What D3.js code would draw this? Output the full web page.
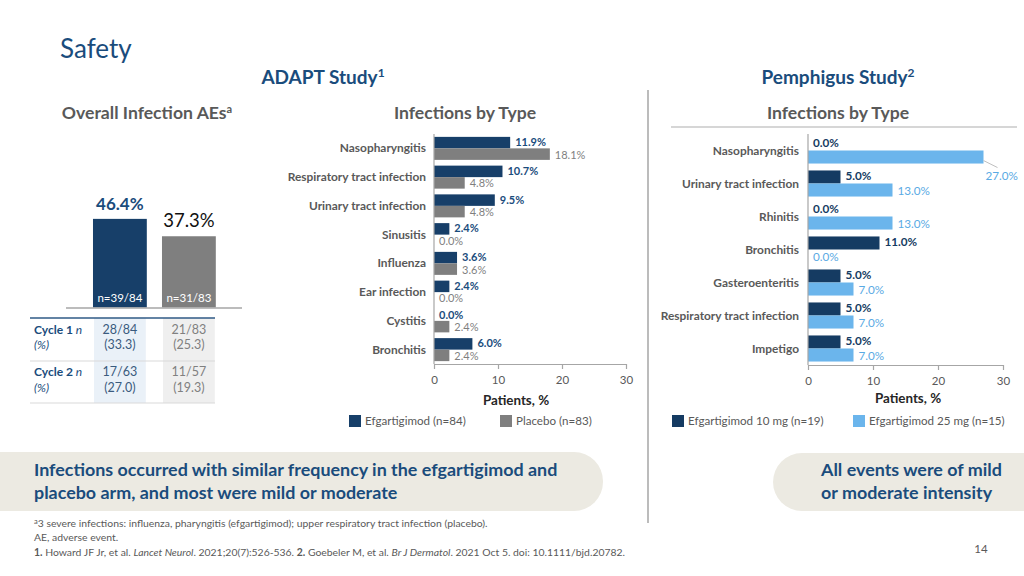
<!DOCTYPE html>
<html><head><meta charset="utf-8">
<script src="https://cdn.jsdelivr.net/npm/d3@7"></script>
<style>
body{margin:0;background:#fff}
svg{display:block}
text{font-family:Lato,"Open Sans",sans-serif}
</style>
</head><body>
<svg id="c" width="1024" height="576"></svg>
<script>
// ---------- data ----------
const overallGroups = ["Efgartigimod", "Placebo"];
const overallValues = [46.4, 37.3];
const overallN = ["n=39/84", "n=31/83"];
const cycleRows = ["Cycle 1", "Cycle 2"];
const cycleEfg = [["28/84", "(33.3)"], ["17/63", "(27.0)"]];
const cyclePbo = [["21/83", "(25.3)"], ["11/57", "(19.3)"]];

const adaptCategories = ["Nasopharyngitis", "Respiratory tract infection", "Urinary tract infection", "Sinusitis", "Influenza", "Ear infection", "Cystitis", "Bronchitis"];
const adaptEfg = [11.9, 10.7, 9.5, 2.4, 3.6, 2.4, 0.0, 6.0];
const adaptPlacebo = [18.1, 4.8, 4.8, 0.0, 3.6, 0.0, 2.4, 2.4];
const adaptLegend = ["Efgartigimod (n=84)", "Placebo (n=83)"];

const pemCategories = ["Nasopharyngitis", "Urinary tract infection", "Rhinitis", "Bronchitis", "Gasteroenteritis", "Respiratory tract infection", "Impetigo"];
const pem10 = [0.0, 5.0, 0.0, 11.0, 5.0, 5.0, 5.0];
const pem25 = [27.0, 13.0, 13.0, 0.0, 7.0, 7.0, 7.0];
const pemLegend = ["Efgartigimod 10 mg (n=19)", "Efgartigimod 25 mg (n=15)"];

const xTicks = [0, 10, 20, 30];

// ---------- styles ----------
const NAVY = "#173F69", TITLE = "#1A4C7C", GREY = "#7F7F7F", LBLUE = "#6BB5EC", TXT = "#595959", AX = "#A6A6A6";

const svg = d3.select("#c");

function txt(x, y, s, o = {}) {
  const t = svg.append("text").attr("x", x).attr("y", y).text(s)
    .attr("font-size", o.size || 11).attr("fill", o.fill || TXT)
    .attr("font-weight", o.weight || "normal")
    .attr("text-anchor", o.anchor || "start");
  if (o.style) t.attr("font-style", o.style);
  if (o.family) t.attr("font-family", o.family);
  return t;
}

// ---------- headings ----------
txt(60, 58, "Safety", {size: 26, fill: TITLE});
const h1 = txt(323, 84, "ADAPT Study", {size: 19, fill: TITLE, weight: "bold", anchor: "middle"});
h1.append("tspan").attr("dy", -7).attr("font-size", 12).text("1");
const h2 = txt(838, 84, "Pemphigus Study", {size: 19, fill: TITLE, weight: "bold", anchor: "middle"});
h2.append("tspan").attr("dy", -7).attr("font-size", 12).text("2");
const h3 = txt(147, 119, "Overall Infection AEs", {size: 17.6, fill: TXT, weight: "bold", anchor: "middle"});
h3.append("tspan").attr("dy", -6).attr("font-size", 11).text("a");
txt(465, 119, "Infections by Type", {size: 17.6, fill: TXT, weight: "bold", anchor: "middle"});
txt(838, 119, "Infections by Type", {size: 17.6, fill: TXT, weight: "bold", anchor: "middle"});

// divider + underline
svg.append("line").attr("x1", 648).attr("x2", 648).attr("y1", 90).attr("y2", 523).attr("stroke", AX).attr("stroke-width", 1.5);
svg.append("line").attr("x1", 671).attr("x2", 1017).attr("y1", 127).attr("y2", 127).attr("stroke", "#C8C8C8").attr("stroke-width", 1.5);

// ---------- overall infection bars ----------
const ox = d3.scaleBand().domain(overallGroups).range([85.4, 223.4]).paddingInner(0.22).paddingOuter(0.11);
const oy = d3.scaleLinear().domain([0, 50]).range([307.5, 307.5 - 95.5]);
const oColors = [NAVY, GREY];
overallGroups.forEach((g, i) => {
  svg.append("rect").attr("x", ox(g)).attr("y", oy(overallValues[i]))
    .attr("width", ox.bandwidth()).attr("height", oy(0) - oy(overallValues[i])).attr("fill", oColors[i]);
  txt(ox(g) + ox.bandwidth() / 2, oy(0) - 6, overallN[i], {size: 11.5, fill: "#fff", anchor: "middle"});
});
txt(ox(overallGroups[0]) + ox.bandwidth() / 2, oy(overallValues[0]) - 9, overallValues[0].toFixed(1) + "%",
  {size: 17, fill: TITLE, weight: "bold", anchor: "middle"});
txt(ox(overallGroups[1]) + ox.bandwidth() / 2 + 0, oy(overallValues[1]) - 9, overallValues[1].toFixed(1) + "%",
  {size: 18.5, fill: "#111", anchor: "middle", family: "'Liberation Sans', Arial, sans-serif"});
svg.append("line").attr("x1", 66).attr("x2", 242).attr("y1", oy(0) + 0.5).attr("y2", oy(0) + 0.5).attr("stroke", AX).attr("stroke-width", 1.5);

// table
const tTop = 318, tMid = 361, tBot = 403;
svg.append("rect").attr("x", ox(overallGroups[0]) + 1).attr("y", tTop).attr("width", ox.bandwidth() - 2).attr("height", tBot - tTop).attr("fill", "#EAF1F8");
svg.append("rect").attr("x", ox(overallGroups[1]) + 1).attr("y", tTop).attr("width", ox.bandwidth() - 2).attr("height", tBot - tTop).attr("fill", "#EFEFEF");
svg.append("line").attr("x1", 30).attr("x2", 215).attr("y1", tTop).attr("y2", tTop).attr("stroke", "#2F5A86").attr("stroke-width", 1.5);
[tMid, tBot].forEach(y => svg.append("line").attr("x1", 30).attr("x2", 215).attr("y1", y).attr("y2", y).attr("stroke", "#D9D9D9").attr("stroke-width", 1.2));
const rowY = [[334, 349], [376, 392]];
cycleRows.forEach((r, i) => {
  const t = txt(34, rowY[i][0], r + " ", {size: 12, fill: TITLE, weight: "bold"});
  t.append("tspan").attr("font-style", "italic").attr("font-weight", "normal").text("n");
  txt(34, rowY[i][1], "(%)", {size: 12, fill: TITLE, style: "italic"});
  const cx0 = ox(overallGroups[0]) + ox.bandwidth() / 2, cx1 = ox(overallGroups[1]) + ox.bandwidth() / 2;
  cycleEfg[i].forEach((s, j) => txt(cx0, rowY[i][j], s, {size: 12.5, fill: "#3A5B7E", anchor: "middle"}));
  cyclePbo[i].forEach((s, j) => txt(cx1, rowY[i][j], s, {size: 12.5, fill: "#808080", anchor: "middle"}));
});

// ---------- horizontal grouped bar chart ----------
function hbar(o) {
  const x = d3.scaleLinear().domain([0, 30]).range([o.x0, o.x1]);
  const y = d3.scaleBand().domain(o.cats).range([o.y0, o.y1]);
  const bh = y.bandwidth() * o.frac / 2;
  const g = svg.append("g");
  o.cats.forEach((c, i) => {
    const top = y(c) + (y.bandwidth() - 2 * bh) / 2;
    g.append("rect").attr("x", x(0)).attr("y", top).attr("width", x(o.s1[i]) - x(0)).attr("height", bh).attr("fill", o.c1);
    g.append("rect").attr("x", x(0)).attr("y", top + bh).attr("width", x(o.s2[i]) - x(0)).attr("height", bh).attr("fill", o.c2);
    txt(o.labX, y(c) + y.bandwidth() / 2 + 4, c, {size: 11.9, weight: "bold", anchor: "end"});
    txt(x(o.s1[i]) + 5, top + bh / 2 + 3.5, o.s1[i].toFixed(1) + "%", {size: o.vs, weight: "bold", fill: o.l1});
    const lx = x(o.s2[i]);
    if (lx + 40 > o.x1) {
      g.append("line").attr("x1", lx).attr("y1", top + 2 * bh - 3).attr("x2", lx + 14).attr("y2", top + 2 * bh + 4)
        .attr("stroke", "#BFBFBF").attr("stroke-width", 1);
      txt(lx + 2, top + 2 * bh + 16, o.s2[i].toFixed(1) + "%", {size: o.vs, fill: o.l2});
    } else {
      txt(lx + 5, top + bh * 1.5 + 4.5, o.s2[i].toFixed(1) + "%", {size: o.vs, fill: o.l2});
    }
  });
  // axes
  const ax = svg.append("g").attr("transform", `translate(0,${o.y1})`)
    .call(d3.axisBottom(x).tickValues(xTicks).tickSize(5).tickPadding(7).tickSizeOuter(0));
  ax.select(".domain").attr("stroke", AX).attr("stroke-width", 1.2);
  ax.selectAll(".tick line").attr("stroke", AX).attr("stroke-width", 1.2);
  ax.selectAll(".tick text").attr("fill", TXT).attr("font-size", 11.5).attr("font-family", "Lato, sans-serif");
  svg.append("line").attr("x1", x(0)).attr("x2", x(0)).attr("y1", o.y0).attr("y2", o.y1).attr("stroke", AX).attr("stroke-width", 1.2);
  txt(o.titleX, o.titleY, "Patients, %", {size: 13.4, weight: "bold", fill: "#262626", anchor: "middle"});
  // legend
  o.legend.forEach((s, i) => {
    svg.append("rect").attr("x", o.legX[i]).attr("y", 415).attr("width", 12).attr("height", 12).attr("fill", i ? o.c2 : o.c1);
    txt(o.legX[i] + 16, 425, s, {size: 11.6, fill: TXT});
  });
}

hbar({x0: 434, x1: 626, y0: 134, y1: 364, cats: adaptCategories, s1: adaptEfg, s2: adaptPlacebo,
  c1: NAVY, c2: GREY, l1: TITLE, l2: GREY, frac: 0.8, vs: 11, labX: 426, titleX: 516, titleY: 405,
  legend: adaptLegend, legX: [349, 500]});
hbar({x0: 808, x1: 1003, y0: 134, y1: 365, cats: pemCategories, s1: pem10, s2: pem25,
  c1: "#153B62", c2: LBLUE, l1: "#153B62", l2: "#5AAAE4", frac: 0.79, vs: 11.7, labX: 799, titleX: 908, titleY: 403,
  legend: pemLegend, legX: [672, 853]});

// ---------- banners ----------
svg.append("rect").attr("x", -40).attr("y", 452).attr("width", 643).attr("height", 59).attr("rx", 29).attr("fill", "#ECEAE2");
svg.append("rect").attr("x", 773).attr("y", 453).attr("width", 300).attr("height", 58).attr("rx", 29).attr("fill", "#ECEAE2");
txt(34, 476, "Infections occurred with similar frequency in the efgartigimod and", {size: 17.9, weight: "bold", fill: TITLE});
txt(34, 499, "placebo arm, and most were mild or moderate", {size: 17.9, weight: "bold", fill: TITLE});
txt(821, 476, "All events were of mild", {size: 17.9, weight: "bold", fill: TITLE});
txt(821, 499, "or moderate intensity", {size: 17.9, weight: "bold", fill: TITLE});

// ---------- footnotes ----------
const f1 = txt(34, 527, "", {size: 10.4});
f1.append("tspan").attr("font-size", 7.5).attr("dy", -3).text("a");
f1.append("tspan").attr("dy", 3).text("3 severe infections: influenza, pharyngitis (efgartigimod); upper respiratory tract infection (placebo).");
txt(34, 541, "AE, adverse event.", {size: 10.4});
const f3 = txt(34, 556, "", {size: 10.4});
f3.append("tspan").attr("font-weight", "bold").text("1.");
f3.append("tspan").text(" Howard JF Jr, et al. ");
f3.append("tspan").attr("font-style", "italic").text("Lancet Neurol");
f3.append("tspan").text(". 2021;20(7):526-536. ");
f3.append("tspan").attr("font-weight", "bold").text("2.");
f3.append("tspan").text(" Goebeler M, et al. ");
f3.append("tspan").attr("font-style", "italic").text("Br J Dermatol");
f3.append("tspan").text(". 2021 Oct 5. doi: 10.1111/bjd.20782.");
txt(981, 553, "14", {size: 11.5, anchor: "middle"});
</script>
</body></html>
